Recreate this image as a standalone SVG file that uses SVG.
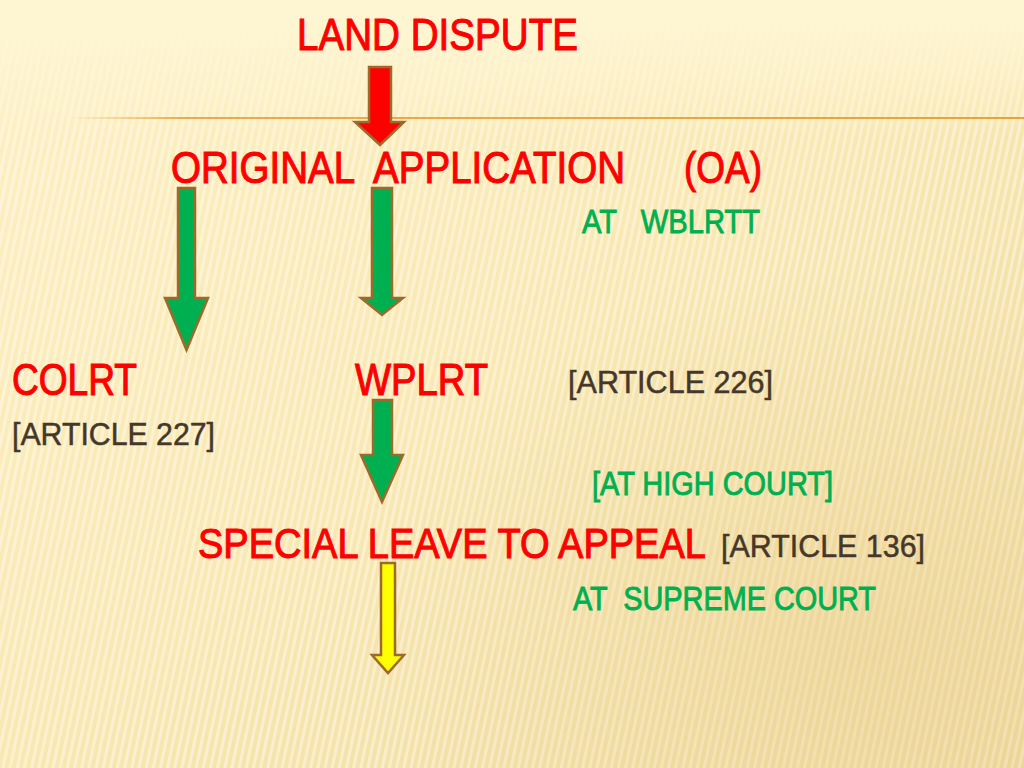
<svg xmlns="http://www.w3.org/2000/svg" width="1024" height="768" viewBox="0 0 1024 768">
<defs>
<linearGradient id="bg" x1="0" y1="0" x2="1" y2="1">
<stop offset="0" stop-color="#FDF0C4"/>
<stop offset="0.5" stop-color="#F9E8B2"/>
<stop offset="1" stop-color="#EFD89C"/>
</linearGradient>
<linearGradient id="topfade" x1="0" y1="0" x2="0" y2="1">
<stop offset="0" stop-color="#FEF5D2" stop-opacity="1"/>
<stop offset="0.05" stop-color="#FEF5D2" stop-opacity="0.9"/>
<stop offset="0.18" stop-color="#FEF5D2" stop-opacity="0"/>
</linearGradient>
<pattern id="stripes" width="7" height="40" patternUnits="userSpaceOnUse" patternTransform="rotate(12)">
<rect x="0" y="0" width="3" height="40" fill="#FFFFFF" opacity="0.4"/>
</pattern>
<linearGradient id="rule" x1="0" y1="0" x2="1" y2="0">
<stop offset="0" stop-color="#E8A43C" stop-opacity="0"/>
<stop offset="0.12" stop-color="#E8A43C" stop-opacity="0.9"/>
<stop offset="1" stop-color="#E8A43C"/>
</linearGradient>
<radialGradient id="shade" cx="0.85" cy="0.85" r="0.5">
<stop offset="0" stop-color="#E9CF8E" stop-opacity="0.5"/>
<stop offset="1" stop-color="#E9CF8E" stop-opacity="0"/>
</radialGradient>
</defs>
<style>
text{font-family:"Liberation Sans Narrow","Liberation Sans",Arial,sans-serif;white-space:pre;}
.red{fill:#FF0000;stroke:#FF0000;stroke-width:1.1;font-size:44px;}
.grn{fill:#00B050;stroke:#00B050;stroke-width:0.9;font-size:34px;}
.brn{fill:#45372A;stroke:#45372A;stroke-width:0.5;font-size:32px;}
.arrow{stroke:#9E6A2C;stroke-width:2.5;stroke-linejoin:miter;}
</style>
<g id="background">
<rect width="1024" height="768" fill="url(#bg)"/>
<rect width="1024" height="768" fill="url(#stripes)"/>
<rect width="1024" height="768" fill="url(#shade)"/>
<rect width="1024" height="768" fill="url(#topfade)"/>
<rect x="70" y="117" width="954" height="2" fill="url(#rule)"/>
</g>
<g id="connectors">
<polygon class="arrow" fill="#FF0000" points="369,67 391,67 391,122 404,122 380,145 355,122 369,122"/>
<polygon class="arrow" fill="#00B050" points="178,188 195,188 195,298 208,298 186.5,350 165,298 178,298"/>
<polygon class="arrow" fill="#00B050" points="372,188 392,188 392,298 403,298 382,315 361,298 372,298"/>
<polygon class="arrow" fill="#00B050" points="373,400 392,400 392,455 403,455 382,502 361,455 373,455"/>
<polygon class="arrow" fill="#FFFF00" points="381,563 395,563 395,655 404,655 388,673 372,655 381,655"/>
</g>
<g id="land-dispute"><text class="red" x="297" y="50" textLength="281" lengthAdjust="spacingAndGlyphs">LAND DISPUTE</text></g>
<g id="original-application">
<text class="red" x="171" y="183" textLength="454" lengthAdjust="spacingAndGlyphs" xml:space="preserve">ORIGINAL  APPLICATION</text>
<text class="red" x="684" y="183" textLength="78" lengthAdjust="spacingAndGlyphs">(OA)</text>
<text class="grn" x="582" y="233" textLength="178" lengthAdjust="spacingAndGlyphs" xml:space="preserve">AT   WBLRTT</text>
</g>
<g id="colrt">
<text class="red" x="12" y="395" textLength="125" lengthAdjust="spacingAndGlyphs">COLRT</text>
<text class="brn" x="12" y="445" textLength="203" lengthAdjust="spacingAndGlyphs">[ARTICLE 227]</text>
</g>
<g id="wplrt">
<text class="red" x="355" y="395" textLength="133" lengthAdjust="spacingAndGlyphs">WPLRT</text>
<text class="brn" x="568" y="393" textLength="205" lengthAdjust="spacingAndGlyphs">[ARTICLE 226]</text>
<text class="grn" x="592" y="495" textLength="241" lengthAdjust="spacingAndGlyphs">[AT HIGH COURT]</text>
</g>
<g id="special-leave">
<text class="red" x="198" y="558" textLength="508" lengthAdjust="spacingAndGlyphs" style="font-size:43px">SPECIAL LEAVE TO APPEAL</text>
<text class="brn" x="721" y="557" textLength="204" lengthAdjust="spacingAndGlyphs">[ARTICLE 136]</text>
<text class="grn" x="573" y="610" textLength="303" lengthAdjust="spacingAndGlyphs" xml:space="preserve">AT  SUPREME COURT</text>
</g>
</svg>
